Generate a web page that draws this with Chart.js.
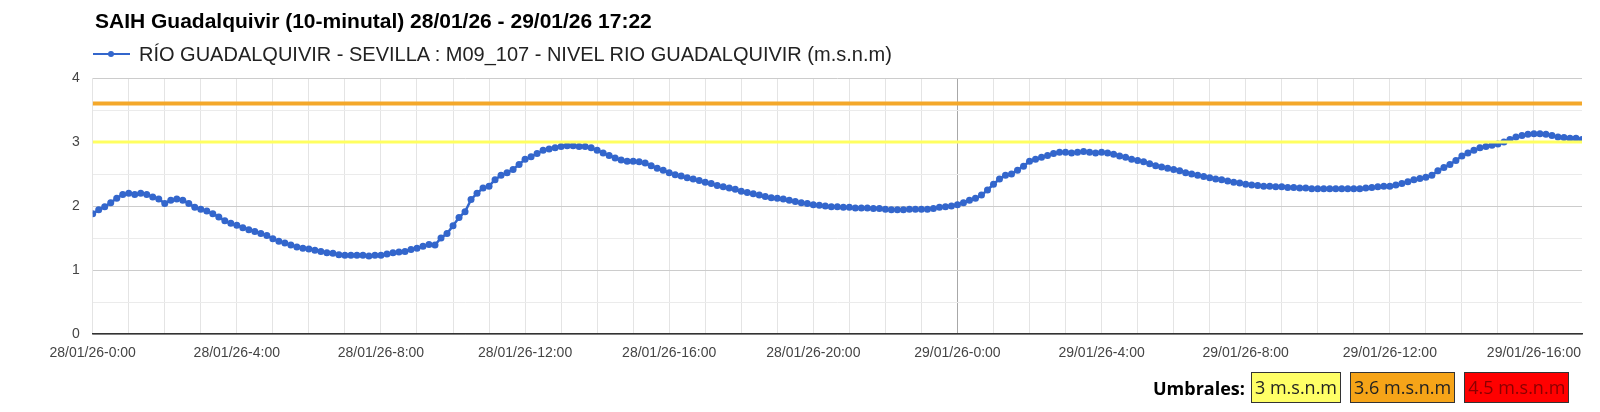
<!DOCTYPE html>
<html>
<head>
<meta charset="utf-8">
<script src="https://cdn.jsdelivr.net/npm/chart.js@4.4.1/dist/chart.umd.min.js"></script>
<style>
  html, body { margin: 0; padding: 0; background: #fff; }
  #wrap { position: relative; width: 1600px; height: 412px; overflow: hidden; font-family: "Liberation Sans", Arial, sans-serif; }
  #chart { position: absolute; left: 0; top: 0; }
  #titulo { position: absolute; left: 95px; top: 9px; font-size: 21px; font-weight: bold; color: #000; white-space: nowrap; }
  #leyenda { position: absolute; left: 93px; top: 43px; font-size: 20px; color: #222; white-space: nowrap; }
  #leyenda .marca { display: inline-block; position: relative; width: 37px; height: 2px; background: #3366cc; vertical-align: middle; margin-right: 9px; top: -2px; }
  #leyenda .marca::after { content: ""; position: absolute; left: 15px; top: -2px; width: 6px; height: 6px; border-radius: 3px; background: #3366cc; }
  #umbrales { position: absolute; left: 1153px; top: 372px; display: flex; align-items: center; font-family: "Open Sans", sans-serif; font-size: 18px; white-space: nowrap; }
  #umbrales b { margin-right: 6px; color: #000; }
  #umbrales span { display: inline-block; border: 1px solid #333; height: 29px; line-height: 29px; padding: 0 3px; margin-right: 9px; }
</style>
</head>
<body>
<div id="wrap">
  <canvas id="chart" width="1600" height="412"></canvas>
  <div id="titulo">SAIH Guadalquivir (10-minutal) 28/01/26 - 29/01/26 17:22</div>
  <div id="leyenda"><span class="marca"></span>RÍO GUADALQUIVIR - SEVILLA : M09_107 - NIVEL RIO GUADALQUIVIR (m.s.n.m)</div>
  <div id="umbrales"><b>Umbrales:</b></div>
</div>
<script>
// nivel cada 10 minutos desde 28/01/26 0:00 (m.s.n.m)
const nivelDia28 = [
  1.88, 1.94, 1.99, 2.05, 2.12, 2.18,
  2.20, 2.18, 2.20, 2.18, 2.14, 2.11,
  2.04, 2.09, 2.11, 2.09, 2.04, 1.98,
  1.95, 1.92, 1.88, 1.83, 1.77, 1.73,
  1.70, 1.66, 1.63, 1.60, 1.57, 1.54,
  1.49, 1.45, 1.42, 1.39, 1.36, 1.34,
  1.33, 1.31, 1.29, 1.27, 1.26, 1.24,
  1.23, 1.23, 1.23, 1.23, 1.22, 1.23,
  1.23, 1.25, 1.27, 1.28, 1.29, 1.32,
  1.34, 1.37, 1.40, 1.39, 1.50, 1.57,
  1.69, 1.82, 1.91, 2.10, 2.20, 2.28,
  2.31, 2.41, 2.48, 2.52, 2.57, 2.65,
  2.73, 2.77, 2.82, 2.87, 2.89, 2.91,
  2.93, 2.94, 2.94, 2.93, 2.93, 2.91,
  2.87, 2.83, 2.79, 2.75, 2.72, 2.70,
  2.70, 2.69, 2.67, 2.63, 2.59, 2.56,
  2.52, 2.49, 2.47, 2.44, 2.42, 2.40,
  2.37, 2.35, 2.32, 2.30, 2.28, 2.26,
  2.23, 2.21, 2.19, 2.17, 2.15, 2.13,
  2.12, 2.11, 2.09, 2.07, 2.05, 2.04,
  2.02, 2.01, 2.00, 1.99, 1.99, 1.98,
  1.98, 1.97, 1.97, 1.97, 1.96, 1.96,
  1.95, 1.94, 1.94, 1.94, 1.95, 1.95,
  1.95, 1.95, 1.96, 1.98, 1.99, 2.00
];
const nivelDia29 = [
  2.02, 2.05, 2.09, 2.12, 2.17, 2.25,
  2.34, 2.42, 2.48, 2.50, 2.56, 2.62,
  2.70, 2.73, 2.76, 2.79, 2.82, 2.84,
  2.84, 2.83, 2.84, 2.85, 2.84, 2.83,
  2.84, 2.83, 2.81, 2.78, 2.76, 2.73,
  2.71, 2.69, 2.66, 2.63, 2.61, 2.59,
  2.57, 2.55, 2.52, 2.50, 2.48, 2.46,
  2.44, 2.42, 2.41, 2.39, 2.37, 2.36,
  2.34, 2.33, 2.32, 2.31, 2.31, 2.30,
  2.30, 2.29, 2.29, 2.28, 2.28, 2.27,
  2.27, 2.27, 2.27, 2.27, 2.27, 2.27,
  2.27, 2.27, 2.28, 2.29, 2.30, 2.31,
  2.31, 2.33, 2.35, 2.38, 2.41, 2.43,
  2.45, 2.48, 2.55, 2.60, 2.65, 2.71,
  2.78, 2.83, 2.87, 2.91, 2.93, 2.95,
  2.97, 3.00, 3.04, 3.08, 3.10, 3.12,
  3.13, 3.13, 3.12, 3.10, 3.08, 3.07,
  3.06, 3.06, 3.04
];

// etiquetas del eje x, una cada 4 horas
const etiquetasX = [
  '28/01/26-0:00', '28/01/26-4:00', '28/01/26-8:00', '28/01/26-12:00',
  '28/01/26-16:00', '28/01/26-20:00', '29/01/26-0:00', '29/01/26-4:00',
  '29/01/26-8:00', '29/01/26-12:00', '29/01/26-16:00'
];
const etiquetasY = ['0', '1', '2', '3', '4'];

// umbrales
const umbrales = [3, 3.6, 4.5];
const umbralTextos = ['3 m.s.n.m', '3.6 m.s.n.m', '4.5 m.s.n.m'];
const umbralColores = ['#ffff66', '#f6a418', '#ff0000'];
const umbralLinea = ['#ffff60', '#f4a82a', '#ff0000'];
const umbralTinta = ['#222', '#222', '#8a0000'];

const nivel = nivelDia28.concat(nivelDia29);
const puntos = nivel.map((v, i) => ({ x: i / 6, y: v })); // x en horas
const horaFin = (nivel.length - 1) / 6;

// cajitas de umbrales (html)
const cont = document.getElementById('umbrales');
umbralTextos.forEach((t, i) => {
    const s = document.createElement('span');
    s.textContent = t;
    s.style.background = umbralColores[i];
    s.style.color = umbralTinta[i];
    cont.appendChild(s);
});

const lineasUmbral = umbrales.map((u, i) => ({
    data: [{ x: 0, y: u }, { x: horaFin, y: u }],
    borderColor: umbralLinea[i],
    borderWidth: i === 0 ? 3 : 4,
    pointRadius: 0,
    order: 0
}));

new Chart(document.getElementById('chart').getContext('2d'), {
    type: 'line',
    data: {
        datasets: [
            ...lineasUmbral,
            {
                label: 'RÍO GUADALQUIVIR - SEVILLA : M09_107 - NIVEL RIO GUADALQUIVIR (m.s.n.m)',
                data: puntos,
                borderColor: '#3366cc',
                backgroundColor: '#3366cc',
                borderWidth: 2.5,
                pointRadius: 3.5,
                pointBorderWidth: 0,
                tension: 0,
                order: 1
            }
        ]
    },
    options: {
        responsive: false,
        animation: false,
        layout: { padding: { top: 78, right: 18, bottom: 42, left: 0 } },
        plugins: {
            legend: { display: false },
            title: { display: false },
            tooltip: { enabled: false }
        },
        scales: {
            x: {
                type: 'linear',
                min: 0,
                max: horaFin,
                afterBuildTicks: s => { s.ticks = s.ticks.filter(t => Number.isInteger(t.value)); },
                afterFit: s => { s.height = 36; },
                ticks: {
                    stepSize: 1,
                    autoSkip: false,
                    maxRotation: 0,
                    padding: 11,
                    color: '#444',
                    font: { family: '"Liberation Sans", Arial', size: 14 },
                    callback: v => (v % 4 === 0 ? etiquetasX[v / 4] : '')
                },
                grid: {
                    drawTicks: false,
                    color: c => (c.tick && c.tick.value === 24 ? '#a8a8a8' : '#e4e4e4'),
                    lineWidth: 1
                },
                border: { display: true, color: '#333', width: 1.5 }
            },
            y: {
                min: 0,
                max: 4,
                afterFit: s => { s.width = 92.7; },
                ticks: {
                    stepSize: 0.5,
                    padding: 13,
                    color: '#444',
                    font: { family: '"Liberation Sans", Arial', size: 14 },
                    callback: v => (Number.isInteger(v) ? etiquetasY[v] : '')
                },
                grid: {
                    drawTicks: false,
                    color: c => (c.tick && Number.isInteger(c.tick.value) ? '#cccccc' : '#ebebeb'),
                    lineWidth: 1
                },
                border: { display: false }
            }
        }
    }
});
</script>
</body>
</html>
